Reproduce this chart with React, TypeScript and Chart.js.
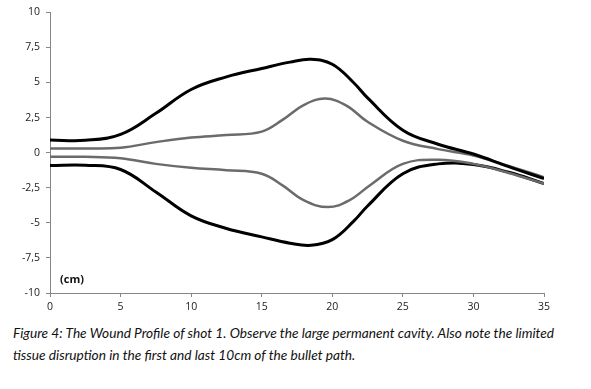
import React, { useEffect, useRef } from "react";
import { Chart, registerables } from "chart.js";

Chart.register(...registerables);

// Depth along the bullet path (cm)
const outerTopX = [0, 2.5, 5, 7.5, 10, 12.5, 15, 17, 18.5, 20, 21.5, 22.5, 25, 27.5, 30, 32.5, 35];
const outerTopY = [0.9, 0.88, 1.3, 2.8, 4.5, 5.4, 6.0, 6.45, 6.65, 6.3, 5.0, 3.9, 1.6, 0.6, -0.1, -1.0, -1.85];

const innerTopX = [0, 2.5, 5, 7.5, 10, 12.5, 15, 16.5, 18, 19.5, 21, 22.5, 25, 27.5, 30, 32.5, 35];
const innerTopY = [0.3, 0.3, 0.35, 0.75, 1.08, 1.25, 1.5, 2.35, 3.4, 3.85, 3.35, 2.2, 0.85, 0.25, -0.2, -0.95, -1.75];

const innerBottomX = [0, 2.5, 5, 7.5, 10, 12.5, 15, 16.5, 18, 19.7, 21.2, 22.7, 25, 27.5, 30, 32.5, 35];
const innerBottomY = [-0.3, -0.3, -0.4, -0.8, -1.08, -1.25, -1.5, -2.35, -3.4, -3.88, -3.4, -2.3, -0.8, -0.5, -0.8, -1.45, -2.2];

const outerBottomX = [0, 2.5, 5, 7.5, 10, 12.5, 15, 17, 18.5, 20, 21.5, 22.5, 25, 27.5, 30, 32.5, 35];
const outerBottomY = [-0.92, -0.9, -1.2, -2.8, -4.5, -5.4, -6.0, -6.45, -6.6, -6.2, -4.9, -3.8, -1.5, -0.8, -0.85, -1.4, -2.2];

const xTicks = [0, 5, 10, 15, 20, 25, 30, 35];
const yTicks = [-10, -7.5, -5, -2.5, 0, 2.5, 5, 7.5, 10];

const unitLabel = "(cm)";
const captionLines = [
  "Figure 4: The Wound Profile of shot 1. Observe the large permanent cavity. Also note the limited",
  "tissue disruption in the first and last 10cm of the bullet path.",
];

const pts = (xs: number[], ys: number[]) => xs.map((x, i) => ({ x, y: ys[i] }));

export default function App() {
  const ref = useRef<HTMLCanvasElement | null>(null);

  useEffect(() => {
    document.body.style.margin = "0";
    const canvas = ref.current;
    if (!canvas) return;

    const unitPlugin = {
      id: "unitLabel",
      afterDraw(chart: any) {
        const { ctx, chartArea } = chart;
        ctx.save();
        ctx.font = "bold 11px 'Open Sans', sans-serif";
        ctx.fillStyle = "#111";
        ctx.textBaseline = "middle";
        ctx.fillText(unitLabel, chartArea.left + 10, chartArea.bottom - 13);
        ctx.restore();
      },
    };

    const mk = (label: string, xs: number[], ys: number[], color: string, w: number) => ({
      label,
      data: pts(xs, ys),
      borderColor: color,
      borderWidth: w,
      pointRadius: 0,
      showLine: true,
      fill: false,
      tension: 0.4,
    });

    const chart = new Chart(canvas, {
      type: "scatter",
      data: {
        datasets: [
          mk("outerTop", outerTopX, outerTopY, "#000000", 3),
          mk("innerTop", innerTopX, innerTopY, "#6b6b6b", 2.5),
          mk("innerBottom", innerBottomX, innerBottomY, "#6b6b6b", 2.5),
          mk("outerBottom", outerBottomX, outerBottomY, "#000000", 3),
        ],
      },
      options: {
        animation: false,
        responsive: false,
        devicePixelRatio: 1,
        layout: { padding: { top: 10, right: 47, bottom: 0, left: 0 } },
        plugins: { legend: { display: false }, tooltip: { enabled: false } },
        scales: {
          x: {
            type: "linear",
            min: 0,
            max: 35,
            afterBuildTicks: (s: any) => {
              s.ticks = xTicks.map((v) => ({ value: v }));
            },
            afterFit: (s: any) => {
              s.height = 29;
            },
            border: { color: "#868686", width: 1 },
            grid: { display: true, drawOnChartArea: false, drawTicks: true, tickLength: 4, color: "#868686" },
            ticks: {
              color: "#222",
              font: { family: "'Open Sans', sans-serif", size: 10.5 },
              padding: 4,
              maxRotation: 0,
            },
          },
          y: {
            type: "linear",
            min: -10,
            max: 10,
            afterBuildTicks: (s: any) => {
              s.ticks = yTicks.map((v) => ({ value: v }));
            },
            afterFit: (s: any) => {
              s.width = 50;
            },
            border: { color: "#868686", width: 1 },
            grid: { display: true, drawOnChartArea: false, drawTicks: true, tickLength: 4, color: "#868686" },
            ticks: {
              color: "#222",
              font: { family: "'Open Sans', sans-serif", size: 10.5 },
              padding: 6,
              callback: (v: any) => String(v).replace(".", ","),
            },
          },
        },
      },
      plugins: [unitPlugin],
    });

    return () => chart.destroy();
  }, []);

  return (
    <div style={{ position: "relative", width: 591, height: 389, background: "#fff" }}>
      <canvas ref={ref} width={591} height={322} style={{ display: "block" }} />
      <div
        style={{
          position: "absolute",
          left: 13,
          top: 322,
          width: 575,
          fontFamily: "Lato, 'Open Sans', sans-serif",
          fontStyle: "italic",
          fontSize: 13.7,
          lineHeight: "22px",
          color: "#111",
          whiteSpace: "nowrap",
        }}
      >
        {captionLines.map((l, i) => (
          <div key={i}>{l}</div>
        ))}
      </div>
    </div>
  );
}
